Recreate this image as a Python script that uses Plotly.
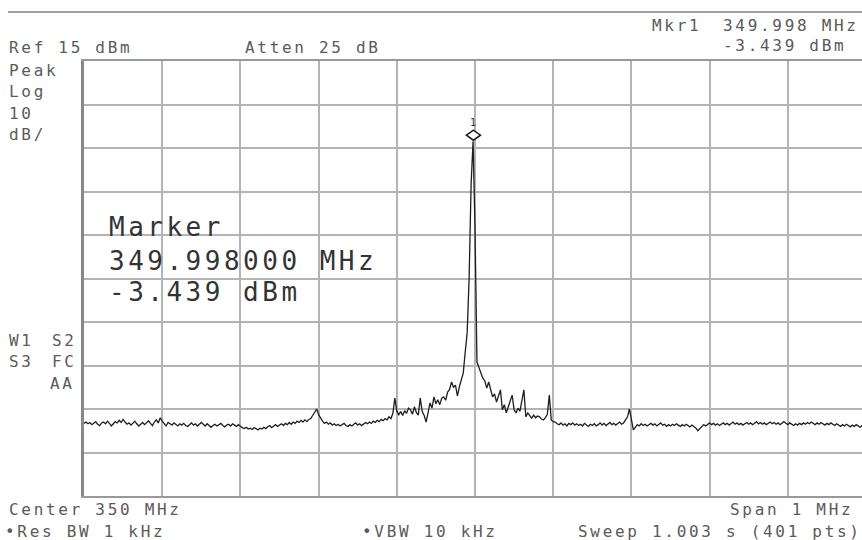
import numpy as np
import plotly.graph_objects as go

# ---- sweep definition ----
start_mhz = 349.5
stop_mhz = 350.5
n_points = 401
ref_level_dbm = 15
db_per_div = 10
n_div = 10

marker_freq_mhz = 349.998
marker_level_dbm = -3.439

# ---- trace values (dBm) ----
level_floor_left = [
    -68.3, -68.0, -68.4, -68.1, -68.6, -68.2, -67.9, -68.5, -68.8, -68.2,
    -68.0, -68.4, -67.8, -68.3, -68.9, -68.4, -67.9, -68.2, -67.6, -68.1,
    -67.4, -68.0, -68.5, -68.2, -68.7, -68.3, -67.8, -68.4, -68.9, -68.5,
    -68.1, -68.6, -68.2, -67.7, -68.3, -68.8, -68.0, -67.5, -68.2, -67.0,
    -67.8, -68.4, -68.9, -68.1, -68.5, -68.7, -68.2, -68.6, -68.9, -68.4,
    -68.7, -68.3, -68.8, -69.0, -68.5, -68.2, -68.7, -68.4, -68.9, -68.6,
    -68.1, -68.5, -68.9, -68.4, -68.7, -69.2, -68.8, -68.5, -68.9, -68.6,
    -68.3, -68.8, -69.1, -68.7, -68.5, -68.9, -68.4, -68.7, -69.0, -68.6,
    -69.0, -69.3, -69.5, -69.2, -69.6, -69.4, -69.7, -69.3, -69.5, -69.8,
    -69.4, -69.6, -69.2, -69.5, -69.1, -68.8, -69.3, -68.9, -68.6, -69.0,
    -68.7, -68.4, -68.8, -68.3, -68.6, -68.1, -68.5, -68.0, -68.3, -67.8,
    -68.1, -67.6, -68.0, -67.5, -67.9, -67.4, -67.2, -66.5, -66.0, -65.0,
    -66.3, -67.2, -67.8, -68.3, -68.0, -68.5, -68.2, -68.7, -68.4, -68.8,
    -68.5, -68.9, -68.6, -68.3, -68.8, -69.0, -68.6, -68.9, -68.5, -68.2,
    -68.7, -68.4, -68.8, -68.5, -68.1, -68.4, -68.0, -68.3, -67.8, -68.1,
    -67.6, -67.9, -67.4, -67.7, -67.2, -67.5, -66.8, -67.2,
]
level_carrier = [
    -66.0, -62.5, -65.5, -66.3, -65.6, -66.5, -65.4, -66.0, -64.8, -65.2,
    -66.2, -64.5, -65.8, -66.4, -62.5, -65.6, -66.5, -68.0, -65.5, -63.6,
    -64.8, -62.2, -63.8, -62.9, -64.0, -62.5, -62.2, -63.0, -61.1, -60.5,
    -58.8, -60.0, -59.5, -62.0, -59.9, -58.3, -56.7, -51.9, -47.5, -34.7,
    -13.5, -3.439, -23.2, -54.2, -55.3, -56.5, -57.9, -58.5, -60.2, -58.8,
    -60.8, -62.2, -61.5, -63.4, -62.0, -60.6, -65.2, -64.0, -65.9, -64.5,
    -63.0, -61.8, -65.2, -65.9, -64.8, -65.5, -63.0, -60.6, -66.8, -65.9,
    -66.5, -67.1, -66.4, -67.0, -66.6, -66.8, -67.3, -67.5, -67.0, -66.2,
    -61.8, -67.5, -67.9,
]
level_floor_right = [
    -68.0, -68.4, -68.6, -68.2, -68.7, -68.4, -68.9, -68.3, -68.6,
    -68.2, -68.7, -68.4, -68.8, -68.5, -68.9, -68.3, -68.6, -69.0, -68.5,
    -68.8, -68.4, -68.9, -68.6, -68.2, -68.7, -68.3, -68.8, -68.5, -68.1,
    -68.6, -68.3, -68.7, -68.4, -68.0, -68.5, -68.2, -67.5, -66.8, -65.0,
    -67.5, -69.8, -69.2, -68.6, -68.9, -68.4, -68.8, -68.5, -68.9, -68.6,
    -68.3, -68.7, -68.4, -68.9, -68.6, -68.2, -68.7, -68.5, -69.0, -68.6,
    -68.9, -68.5, -68.8, -68.4, -68.7, -69.0, -68.6, -68.9, -68.5, -68.8,
    -69.1, -68.7, -69.0, -69.4, -70.0, -69.5, -69.0, -68.6, -68.9, -68.5,
    -68.2, -68.6, -68.3, -68.7, -68.4, -68.8, -68.5, -68.2, -68.6, -68.3,
    -68.7, -68.4, -68.0, -68.5, -68.2, -68.6, -68.3, -68.7, -68.4, -68.1,
    -68.5, -68.2, -68.6, -68.3, -67.9, -68.4, -68.1, -68.5, -68.2, -68.6,
    -68.3, -68.0, -68.4, -68.1, -68.5, -68.2, -68.6, -68.3, -67.9, -68.3,
    -68.6, -68.2, -68.5, -68.8, -68.4, -68.7, -68.3, -68.6, -68.2, -68.5,
    -68.1, -68.4, -68.0, -68.3, -68.6, -68.2, -68.5, -68.1, -68.4, -68.7,
    -68.3, -68.6, -68.2, -68.5, -68.8, -68.4, -68.7, -69.0, -68.6, -68.9,
    -68.5, -68.8, -69.1, -68.7, -69.0, -68.6, -68.9, -69.2, -68.8, -69.1, -68.9,
]
level_dbm = level_floor_left + level_carrier + level_floor_right
freq_mhz = np.linspace(start_mhz, stop_mhz, n_points)[: len(level_dbm)]

# ---- geometry (pixels) ----
W, H = 862, 540
L, T, B = 84, 61, 496
div_px = 78.2
plot_w = W - L
plot_h = B - T
x_hi = start_mhz + (stop_mhz - start_mhz) * plot_w / (div_px * n_div)
y_lo = ref_level_dbm - db_per_div * n_div


def px(x):
    return (x - L) / plot_w


def py(y):
    return (B - y) / plot_h


fig = go.Figure()
fig.add_trace(go.Scatter(
    x=freq_mhz, y=level_dbm, mode="lines",
    line=dict(color="#1e1e1e", width=1.3), hoverinfo="skip", showlegend=False,
))

annotations = []


def lab(text, x, y, size=16, color="#5a5a5a", ls=2.7):
    annotations.append(dict(
        text=f'<span style="letter-spacing:{ls}px">{text}</span>',
        xref="paper", yref="paper", x=px(x), y=py(y),
        xanchor="left", yanchor="middle", showarrow=False,
        borderpad=0, borderwidth=0,
        font=dict(family="DejaVu Sans Mono", size=size, color=color),
    ))


lab("Ref 15 dBm", 9, 47)
lab("Atten 25 dB", 245, 47)
lab("Mkr1", 652, 25)
lab("349.998 MHz", 723, 25)
lab("-3.439 dBm", 723, 46)
lab("Peak", 9, 70)
lab("Log", 9, 91)
lab("10", 9, 113)
lab("dB/", 9, 134)
lab("W1", 9, 340)
lab("S2", 52, 340)
lab("S3", 9, 361)
lab("FC", 52, 361)
lab("AA", 50, 383)
lab("Center 350 MHz", 9, 509)
lab("Span 1 MHz", 730, 509)
lab("\u2022Res BW 1 kHz", 5, 531)
lab("\u2022VBW 10 kHz", 362, 531)
lab("Sweep 1.003 s (401 pts)", 578, 531)

lab("Marker", 109, 227, size=26, color="#333333", ls=3.5)
lab("349.998000 MHz", 109, 261, size=26, color="#333333", ls=3.5)
lab("-3.439 dBm", 109, 292, size=26, color="#333333", ls=3.5)

# marker number above the diamond
annotations.append(dict(
    text="1", x=marker_freq_mhz, y=marker_level_dbm, xref="x", yref="y",
    showarrow=False, yshift=19, xanchor="center", yanchor="middle",
    font=dict(family="DejaVu Sans Mono", size=10, color="#333333"),
))

shapes = [
    # top rule of the screen
    dict(type="line", xref="paper", yref="paper",
         x0=px(8), x1=px(W), y0=py(12), y1=py(12),
         line=dict(color="#a0a0a0", width=2)),
    # marker diamond
    dict(type="path", xref="x", yref="y", xsizemode="pixel", ysizemode="pixel",
         xanchor=marker_freq_mhz, yanchor=marker_level_dbm,
         path="M-7,6 L0,11 L7,6 L0,1 Z",
         line=dict(color="#1e1e1e", width=1.5), fillcolor="white"),
]

fig.update_layout(
    width=W, height=H,
    margin=dict(l=L, r=0, t=T, b=H - B, pad=0),
    paper_bgcolor="white", plot_bgcolor="white",
    annotations=annotations, shapes=shapes,
    xaxis=dict(range=[start_mhz, x_hi], tick0=start_mhz, dtick=0.1,
               showticklabels=False, ticks="", showgrid=True,
               gridcolor="#b4b4b4", gridwidth=2, zeroline=False,
               showline=True, linecolor="#999999", linewidth=2, mirror=True,
               fixedrange=True),
    yaxis=dict(range=[y_lo, ref_level_dbm], tick0=y_lo, dtick=db_per_div,
               showticklabels=False, ticks="", showgrid=True,
               gridcolor="#b4b4b4", gridwidth=2, zeroline=False,
               showline=True, linecolor="#888888", linewidth=3, mirror=False,
               fixedrange=True),
    showlegend=False,
)

fig.write_html("out.html")
